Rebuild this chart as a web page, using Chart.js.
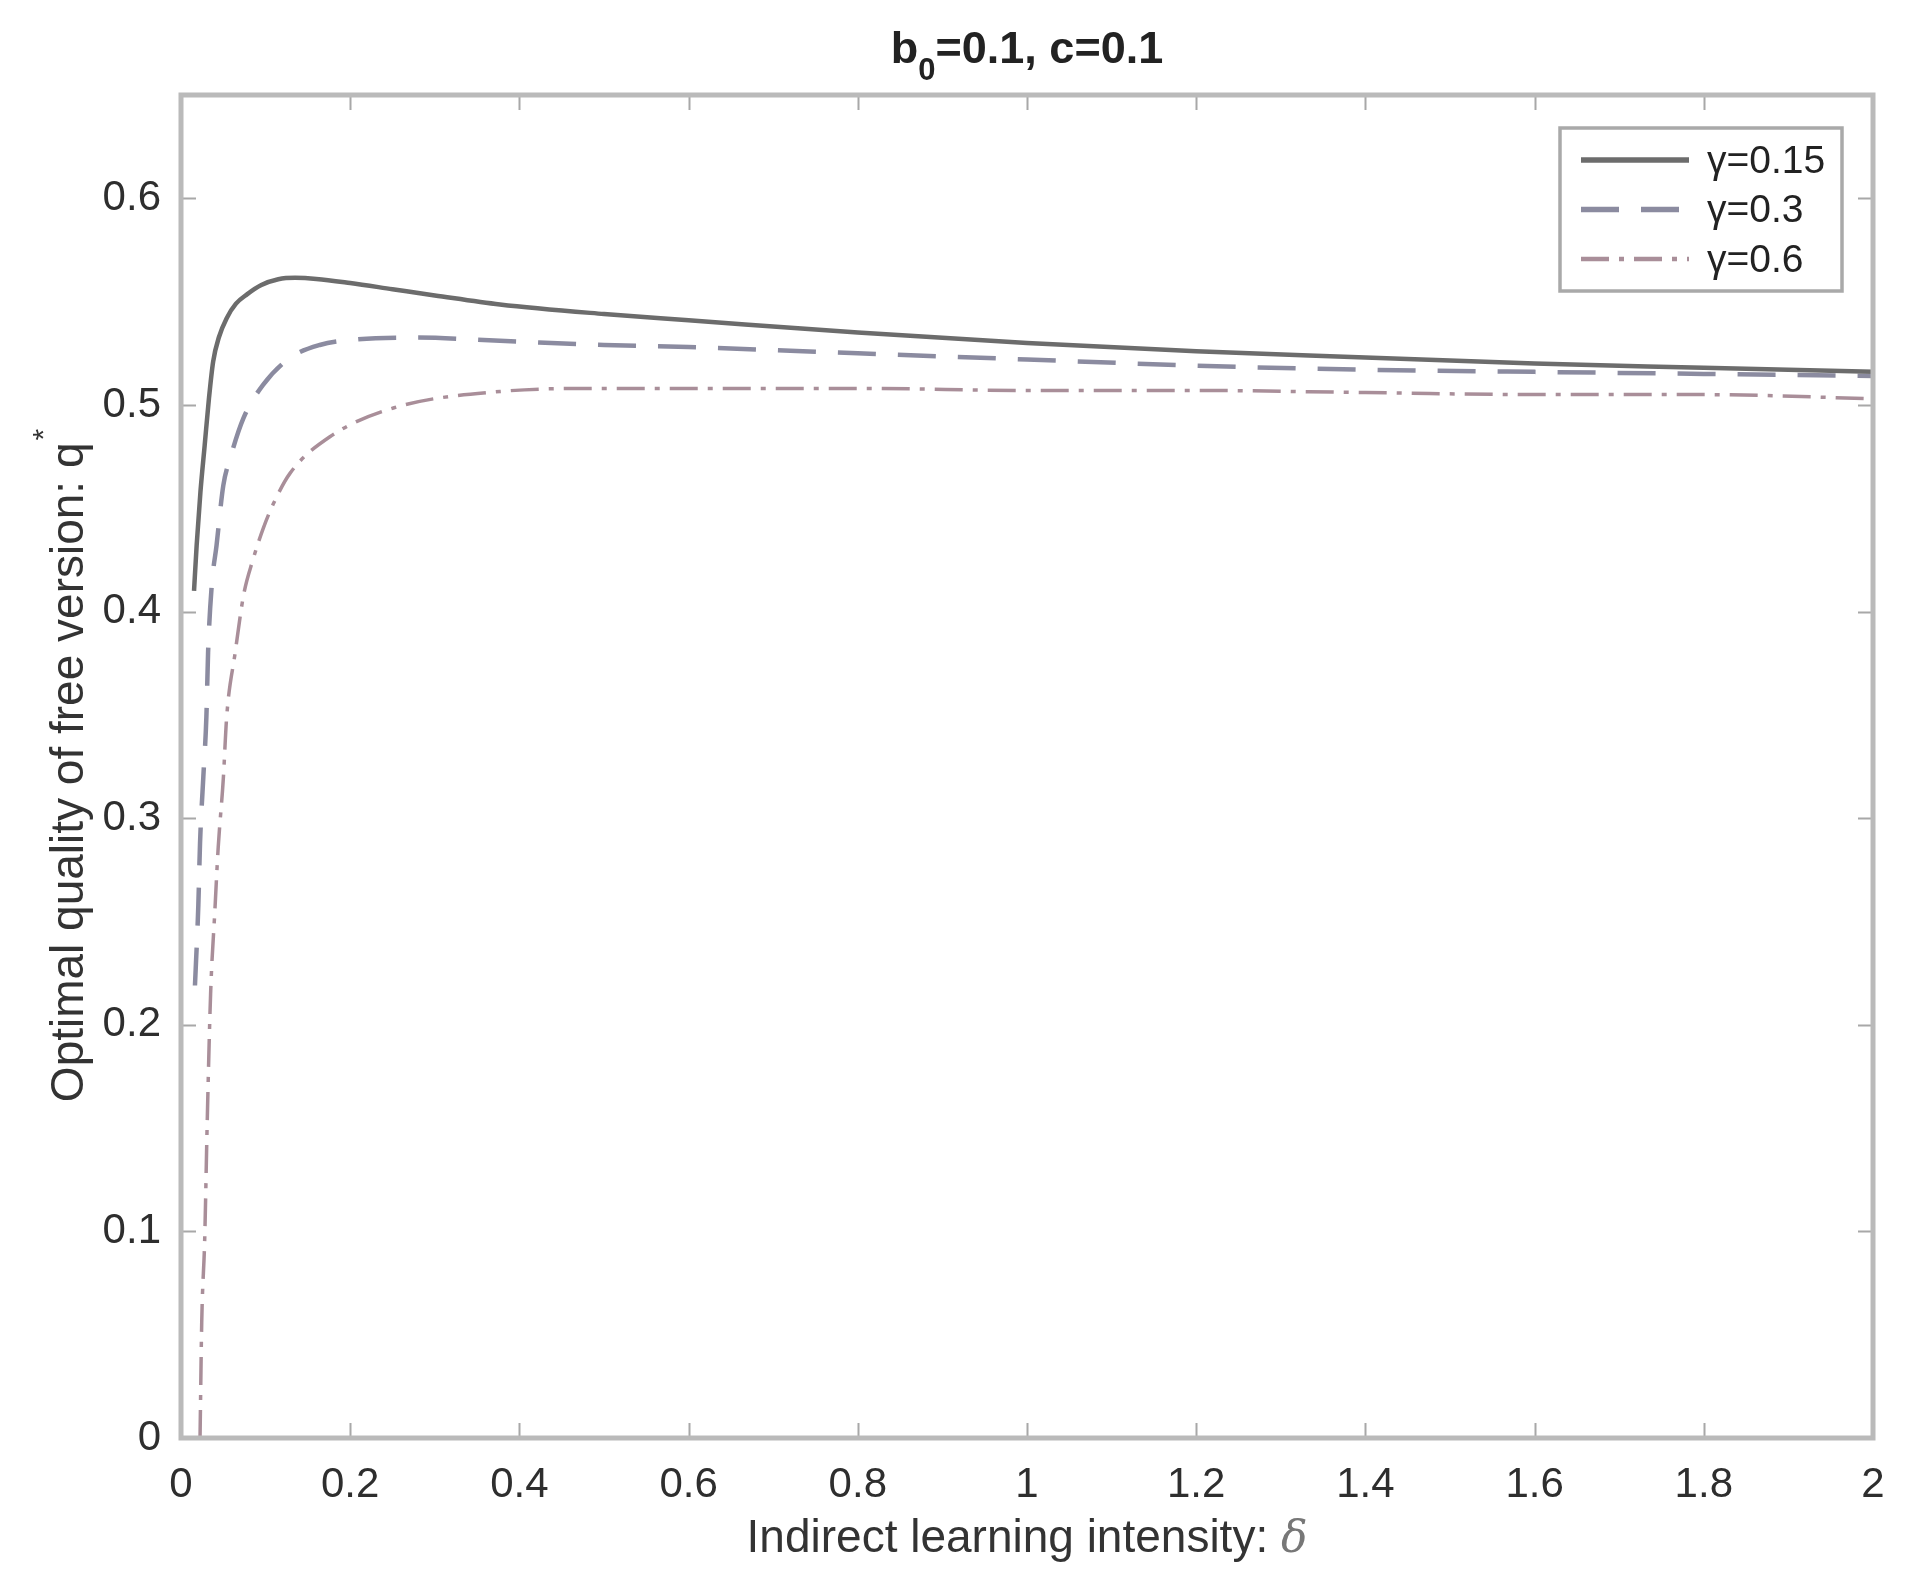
<!DOCTYPE html>
<html>
<head>
<meta charset="utf-8">
<script src="https://cdn.jsdelivr.net/npm/chart.js@4.4.1/dist/chart.umd.min.js"></script>
<style>
  html, body { margin: 0; padding: 0; background: #fff; }
  canvas { display: block; }
</style>
</head>
<body>
<canvas id="chartCanvas" width="1919" height="1592"></canvas>
<script>
/* ---------------- data ---------------- */
// gamma = 0.15 (solid)
const deltaG015 = [0.0154, 0.0185, 0.023, 0.028, 0.033, 0.038, 0.045, 0.054, 0.065, 0.078,
                   0.095, 0.115, 0.135, 0.16, 0.2, 0.25, 0.3, 0.377, 0.5, 0.6,
                   0.8, 1.0, 1.2, 1.4, 1.6, 1.8, 2.0];
const qG015     = [0.410, 0.432, 0.458, 0.4805, 0.503, 0.521, 0.533, 0.542, 0.549, 0.5535,
                   0.558, 0.5608, 0.5615, 0.561, 0.559, 0.556, 0.553, 0.5486, 0.544, 0.541,
                   0.535, 0.530, 0.526, 0.523, 0.520, 0.518, 0.516];

// gamma = 0.3 (dashed)
const deltaG03 = [0.0165, 0.0205, 0.0225, 0.0264, 0.030, 0.032, 0.0363, 0.042, 0.050, 0.058,
                  0.0737, 0.097, 0.129, 0.164, 0.204, 0.275, 0.377, 0.5, 0.6, 0.8,
                  1.0, 1.2, 1.4, 1.6, 1.8, 2.0];
const qG03     = [0.219, 0.258, 0.288, 0.320, 0.349, 0.380, 0.4125, 0.432, 0.461, 0.474,
                  0.4935, 0.5097, 0.5228, 0.529, 0.5316, 0.5326, 0.531, 0.529, 0.528, 0.525,
                  0.522, 0.519, 0.517, 0.516, 0.515, 0.514];

// gamma = 0.6 (dash-dot)
const deltaG06 = [0.0225, 0.0245, 0.028, 0.031, 0.035, 0.040, 0.044, 0.050, 0.054, 0.064,
                  0.074, 0.085, 0.097, 0.109, 0.129, 0.176, 0.251, 0.377, 0.5, 0.6,
                  0.8, 1.0, 1.2, 1.4, 1.6, 1.8, 2.0];
const qG06     = [0.0, 0.056, 0.096, 0.153, 0.215, 0.255, 0.286, 0.319, 0.349, 0.380,
                  0.408, 0.425, 0.440, 0.452, 0.467, 0.4846, 0.4985, 0.5065, 0.508, 0.508,
                  0.508, 0.507, 0.507, 0.506, 0.505, 0.505, 0.503];

const seriesLabels = ['\u03b3=0.15', '\u03b3=0.3', '\u03b3=0.6'];

const xTickValues = [0, 0.2, 0.4, 0.6, 0.8, 1, 1.2, 1.4, 1.6, 1.8, 2];
const xTickLabels = ['0', '0.2', '0.4', '0.6', '0.8', '1', '1.2', '1.4', '1.6', '1.8', '2'];
const yTickValues = [0, 0.1, 0.2, 0.3, 0.4, 0.5, 0.6];
const yTickLabels = ['0', '0.1', '0.2', '0.3', '0.4', '0.5', '0.6'];

/* ---------------- helpers ---------------- */
const FONT = '"Liberation Sans", Arial, Helvetica, sans-serif';

function pairs(xs, ys) {
  return xs.map((x, i) => ({ x: x, y: ys[i] }));
}

// MATLAB-style frame: box + inward ticks on all four sides
const framePlugin = {
  id: 'frame',
  afterDatasetsDraw(chart) {
    const { ctx, chartArea: a, scales } = chart;
    const tl = 15;
    ctx.save();
    ctx.strokeStyle = '#a8a8a8';
    ctx.lineWidth = 2;
    ctx.beginPath();
    scales.x.ticks.forEach(t => {
      const px = Math.round(scales.x.getPixelForValue(t.value)) + 0.5;
      ctx.moveTo(px, a.bottom); ctx.lineTo(px, a.bottom - tl);
      ctx.moveTo(px, a.top);    ctx.lineTo(px, a.top + tl);
    });
    scales.y.ticks.forEach(t => {
      const py = Math.round(scales.y.getPixelForValue(t.value)) + 0.5;
      ctx.moveTo(a.left, py);  ctx.lineTo(a.left + tl, py);
      ctx.moveTo(a.right, py); ctx.lineTo(a.right - tl, py);
    });
    ctx.stroke();

    ctx.strokeStyle = '#bababa';
    ctx.lineWidth = 5;
    ctx.strokeRect(a.left, a.top, a.right - a.left, a.bottom - a.top);
    ctx.restore();
  }
};

// boxed legend in the upper right corner of the axes
const boxLegendPlugin = {
  id: 'boxLegend',
  afterDraw(chart) {
    const { ctx, chartArea: a } = chart;
    const bx = a.right - 313, by = a.top + 33, bw = 282, bh = 163;
    ctx.save();
    ctx.fillStyle = '#fff';
    ctx.fillRect(bx, by, bw, bh);
    ctx.strokeStyle = '#a9a9a9';
    ctx.lineWidth = 3.5;
    ctx.strokeRect(bx, by, bw, bh);

    ctx.font = '39px ' + FONT;
    ctx.textBaseline = 'middle';
    ctx.textAlign = 'left';
    chart.data.datasets.forEach((ds, i) => {
      const y = by + 32 + i * 49.5;
      ctx.strokeStyle = ds.borderColor;
      ctx.lineWidth = ds.borderWidth + 1;
      ctx.setLineDash(ds.borderDash || []);
      ctx.beginPath();
      ctx.moveTo(bx + 21, y);
      ctx.lineTo(bx + 129, y);
      ctx.stroke();
      ctx.setLineDash([]);
      ctx.fillStyle = '#222';
      ctx.fillText(ds.label, bx + 147, y + 2);
    });
    ctx.restore();
  }
};

// title with subscript, y label with superscript, x label with italic delta
const textPlugin = {
  id: 'texts',
  afterDraw(chart) {
    const { ctx, chartArea: a } = chart;
    const cx = (a.left + a.right) / 2;
    ctx.save();
    ctx.fillStyle = '#222';
    ctx.textBaseline = 'alphabetic';
    ctx.textAlign = 'left';

    // title  b_0=0.1, c=0.1
    const big = 'bold 45px ' + FONT, small = 'bold 31px ' + FONT;
    ctx.font = big;   const w1 = ctx.measureText('b').width;
    ctx.font = small; const w2 = ctx.measureText('0').width;
    ctx.font = big;   const w3 = ctx.measureText('=0.1, c=0.1').width;
    let x0 = cx - (w1 + w2 + w3) / 2;
    ctx.font = big;   ctx.fillText('b', x0, 63);
    ctx.font = small; ctx.fillText('0', x0 + w1, 80);
    ctx.font = big;   ctx.fillText('=0.1, c=0.1', x0 + w1 + w2, 63);

    // x label
    ctx.fillStyle = '#333';
    const xl = 'Indirect learning intensity: ';
    ctx.font = '46px ' + FONT;
    const wx1 = ctx.measureText(xl).width;
    ctx.font = 'italic 44px "DejaVu Serif", serif';
    const wx2 = ctx.measureText('\u03b4').width;
    let xs = cx - (wx1 + wx2) / 2;
    ctx.font = '46px ' + FONT;
    ctx.fillText(xl, xs, 1552);
    ctx.fillStyle = '#777';
    ctx.font = 'italic 44px "DejaVu Serif", serif';
    ctx.fillText('\u03b4', xs + wx1, 1552);

    // y label (rotated)
    ctx.fillStyle = '#333';
    const yl = 'Optimal quality of free version: q';
    ctx.translate(83, (a.top + a.bottom) / 2);
    ctx.rotate(-Math.PI / 2);
    ctx.font = '46px ' + FONT;
    const wy = ctx.measureText(yl).width;
    ctx.font = '30px ' + FONT;
    const wa = ctx.measureText('*').width;
    const ys = -(wy + wa) / 2;
    ctx.font = '46px ' + FONT;
    ctx.fillText(yl, ys, 0);
    ctx.font = '30px ' + FONT;
    ctx.fillText('*', ys + wy + 2, -30);
    ctx.restore();
  }
};

/* ---------------- chart ---------------- */
const ctx = document.getElementById('chartCanvas').getContext('2d');

new Chart(ctx, {
  type: 'scatter',
  data: {
    datasets: [
      {
        label: seriesLabels[0],
        data: pairs(deltaG015, qG015),
        borderColor: '#6c6c6c',
        borderWidth: 4.5,
      },
      {
        label: seriesLabels[1],
        data: pairs(deltaG03, qG03),
        borderColor: '#8b8ba0',
        borderWidth: 4.5,
        borderDash: [38, 22],
      },
      {
        label: seriesLabels[2],
        data: pairs(deltaG06, qG06),
        borderColor: '#a98e99',
        borderWidth: 3.5,
        borderDash: [28, 10, 5, 10],
      },
    ].map(ds => Object.assign(ds, {
      showLine: true,
      pointRadius: 0,
      pointHoverRadius: 0,
      cubicInterpolationMode: 'monotone',
      fill: false,
    })),
  },
  options: {
    responsive: false,
    animation: false,
    devicePixelRatio: 1,
    layout: { padding: { top: 95, right: 46, left: 0, bottom: 0 } },
    plugins: {
      legend: { display: false },
      title: { display: false },
      tooltip: { enabled: false },
    },
    scales: {
      x: {
        type: 'linear',
        min: 0,
        max: 2,
        grid: { display: false, drawTicks: false },
        border: { display: false },
        afterBuildTicks: (scale) => { scale.ticks = xTickValues.map(v => ({ value: v })); },
        afterFit: (scale) => { scale.height = 154; },
        ticks: {
          padding: 22,
          maxRotation: 0,
          autoSkip: false,
          color: '#2e2e2e',
          font: { family: FONT, size: 42 },
          callback: (v, i) => xTickLabels[i],
        },
      },
      y: {
        type: 'linear',
        min: 0,
        max: 0.65,
        grid: { display: false, drawTicks: false },
        border: { display: false },
        afterBuildTicks: (scale) => { scale.ticks = yTickValues.map(v => ({ value: v })); },
        afterFit: (scale) => { scale.width = 181; },
        ticks: {
          padding: 20,
          autoSkip: false,
          color: '#2e2e2e',
          font: { family: FONT, size: 42 },
          callback: (v, i) => yTickLabels[i],
        },
      },
    },
  },
  plugins: [framePlugin, boxLegendPlugin, textPlugin],
});
</script>
</body>
</html>
